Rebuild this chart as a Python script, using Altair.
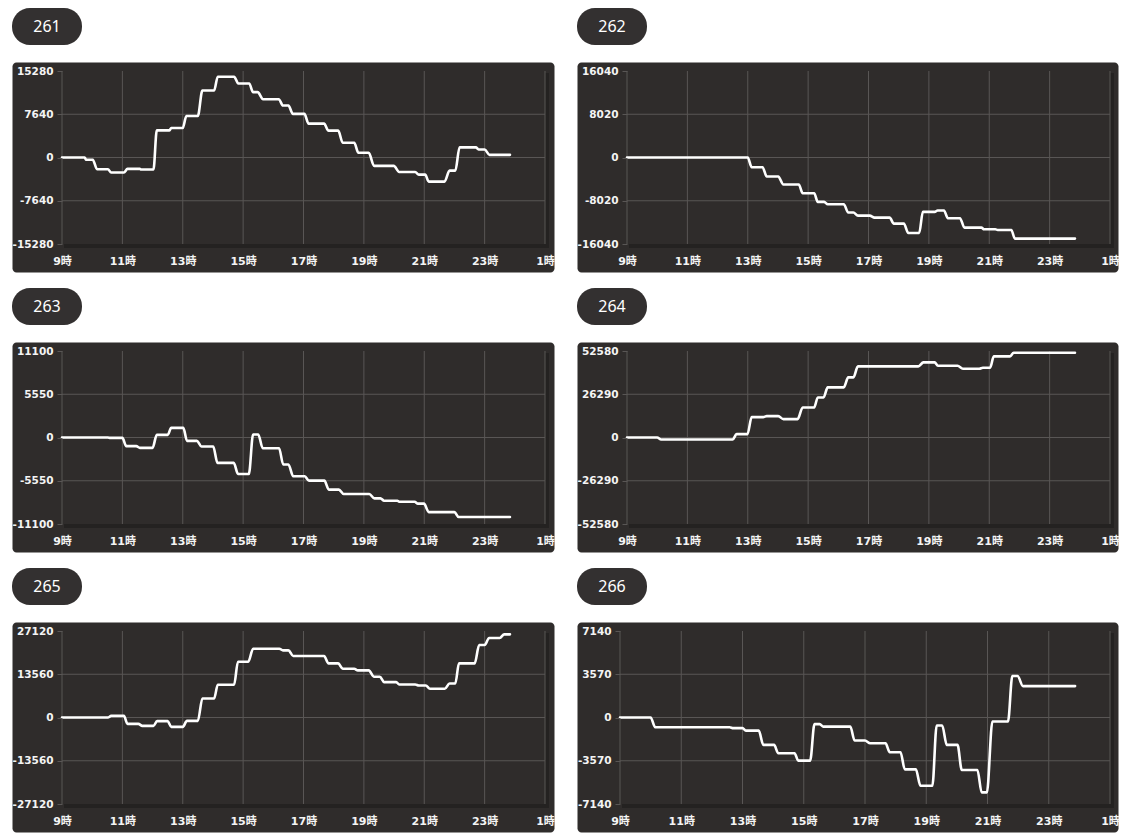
import altair as alt
import pandas as pd

NAMES = ["261", "262", "263", "264", "265", "266"]
YMAX = [15280, 16040, 11100, 52580, 27120, 7140]
XTICKS = [9, 11, 13, 15, 17, 19, 21, 23, 25]

S261 = [(9.0, 0), (9.75, 0), (9.8, -400), (10.02, -400), (10.16, -2070), (10.52, -2070),
        (10.63, -2660), (11.05, -2660), (11.17, -2010), (11.58, -2010), (11.62, -2130),
        (12.03, -2130), (12.14, 4800), (12.56, 4800), (12.62, 5210), (13.0, 5210),
        (13.12, 7340), (13.5, 7340), (13.65, 11840), (14.04, 11840), (14.16, 14270),
        (14.7, 14270), (14.84, 13080), (15.2, 13080), (15.33, 11540), (15.48, 11540),
        (15.66, 10300), (16.18, 10300), (16.32, 9180), (16.5, 9180), (16.65, 7700),
        (17.03, 7700), (17.17, 5980), (17.68, 5980), (17.83, 4740), (18.15, 4740),
        (18.3, 2600), (18.68, 2600), (18.82, 830), (19.16, 830), (19.34, -1480),
        (19.99, -1480), (20.17, -2550), (20.7, -2550), (20.82, -3020), (21.03, -3020),
        (21.15, -4260), (21.67, -4260), (21.84, -2310), (22.03, -2310), (22.17, 1780),
        (22.71, 1780), (22.8, 1420), (23.0, 1420), (23.16, 470), (23.84, 470)]

S262 = [(9.0, 0), (13.0, 0), (13.13, -1800), (13.49, -1800), (13.63, -3530), (14.01, -3530),
        (14.18, -5010), (14.69, -5010), (14.82, -6620), (15.2, -6620), (15.32, -8230),
        (15.53, -8230), (15.65, -8670), (16.18, -8670), (16.33, -10210), (16.5, -10210),
        (16.65, -10770), (17.04, -10770), (17.2, -11140), (17.7, -11140), (17.84, -12260),
        (18.17, -12260), (18.32, -13990), (18.68, -13990), (18.8, -10090), (19.19, -10090),
        (19.29, -9840), (19.5, -9840), (19.63, -11270), (20.03, -11270), (20.18, -13000),
        (20.74, -13000), (20.83, -13310), (21.2, -13310), (21.28, -13430), (21.73, -13430),
        (21.85, -15040), (23.84, -15040)]

S263 = [(9.0, 0), (10.52, 0), (10.6, -50), (11.0, -50), (11.13, -1110), (11.46, -1110),
        (11.58, -1330), (12.0, -1330), (12.14, 340), (12.5, 340), (12.62, 1240), (13.02, 1240),
        (13.14, -430), (13.47, -430), (13.62, -1160), (14.01, -1160), (14.15, -3260),
        (14.69, -3260), (14.83, -4680), (15.19, -4680), (15.33, 390), (15.5, 390),
        (15.65, -1370), (16.19, -1370), (16.33, -3470), (16.5, -3470), (16.66, -4980),
        (17.04, -4980), (17.18, -5530), (17.69, -5530), (17.84, -6690), (18.17, -6690),
        (18.33, -7250), (19.18, -7250), (19.35, -7810), (19.55, -7810), (19.67, -8110),
        (20.11, -8110), (20.17, -8240), (20.68, -8240), (20.79, -8490), (20.99, -8490),
        (21.15, -9570), (22.0, -9570), (22.14, -10210), (23.84, -10210)]

S264 = [(9.0, 0), (10.0, 0), (10.13, -1220), (12.5, -1220), (12.63, 2030), (12.99, 2030),
        (13.13, 12380), (13.51, 12380), (13.63, 13000), (14.01, 13000), (14.18, 11170),
        (14.65, 11170), (14.82, 18270), (15.2, 18270), (15.32, 24360), (15.51, 24360),
        (15.65, 30450), (16.18, 30450), (16.33, 36540), (16.5, 36540), (16.65, 43240),
        (18.65, 43240), (18.82, 45680), (19.19, 45680), (19.3, 43650), (19.95, 43650),
        (20.13, 41820), (20.67, 41820), (20.79, 42430), (21.03, 42430), (21.15, 49330),
        (21.69, 49330), (21.81, 51560), (23.84, 51560)]

S265 = [(9.0, 0), (10.52, 0), (10.63, 520), (11.05, 520), (11.17, -1990), (11.53, -1990),
        (11.66, -2620), (12.03, -2620), (12.15, -1150), (12.5, -1150), (12.62, -2930),
        (13.0, -2930), (13.14, -1050), (13.5, -1050), (13.65, 5970), (14.04, 5970),
        (14.16, 10260), (14.7, 10260), (14.83, 17480), (15.17, 17480), (15.33, 21570),
        (16.2, 21570), (16.32, 21040), (16.5, 21040), (16.66, 19260), (17.68, 19260),
        (17.83, 16960), (18.15, 16960), (18.3, 15290), (18.68, 15290), (18.8, 14760),
        (19.16, 14760), (19.34, 12770), (19.53, 12770), (19.67, 11100), (20.07, 11100),
        (20.17, 10370), (20.7, 10370), (20.82, 10050), (21.05, 10050), (21.19, 9000),
        (21.68, 9000), (21.84, 10680), (22.03, 10680), (22.15, 16960), (22.67, 16960),
        (22.82, 22720), (23.0, 22720), (23.15, 24920), (23.5, 24920), (23.65, 26070),
        (23.84, 26070)]

S266 = [(9.0, 0), (10.0, 0), (10.15, -800), (12.58, -800), (12.7, -880), (13.0, -880),
        (13.11, -1080), (13.53, -1080), (13.68, -2260), (14.03, -2260), (14.17, -2950),
        (14.7, -2950), (14.82, -3560), (15.21, -3560), (15.35, -550), (15.52, -550),
        (15.64, -750), (16.52, -750), (16.66, -1900), (17.0, -1900), (17.17, -2130),
        (17.67, -2130), (17.81, -2870), (18.16, -2870), (18.3, -4280), (18.66, -4280),
        (18.81, -5630), (19.2, -5630), (19.34, -660), (19.52, -660), (19.67, -2260),
        (20.02, -2260), (20.16, -4330), (20.67, -4330), (20.81, -6180), (20.98, -6180),
        (21.16, -330), (21.67, -330), (21.81, 3420), (21.98, 3420), (22.16, 2590),
        (23.86, 2590)]

SERIES = [S261, S262, S263, S264, S265, S266]

# styling / layout (pixels)
BOX = "#2f2c2b"
PILL = "#333030"
SHADOW = "#242221"
GRID = "#595655"
LABEL = "#f4f4f4"
FONT = "DejaVu Sans, Noto Sans CJK JP, sans-serif"
BOX_H = 210          # dark card height (the view)
PT, PB = 9, 182      # plot area top / bottom inside the card
# per panel: card width, plot left, plot right
GEOM = [
    (542, 50, 533),
    (541, 50, 533),
    (542, 50, 533),
    (541, 50, 533),
    (542, 50, 533),
    (541, 43, 533),
]


def panel(name, series, ymax, geom):
    w, r0, r1 = geom
    one = pd.DataFrame({"k": [0]})
    line_df = pd.DataFrame(series, columns=["t", "v"])
    xgrid = pd.DataFrame({"t": XTICKS})
    ygrid = pd.DataFrame({"v": [ymax / 2, 0, -ymax / 2]})
    yticks = [ymax, ymax / 2, 0, -ymax / 2, -ymax]
    xs = alt.Scale(domain=[9, 25], range=[r0, r1], nice=False, zero=False)
    ys = alt.Scale(domain=[-ymax, ymax], range=[PB, PT], nice=False, zero=False)
    xaxis = alt.Axis(
        values=XTICKS, labelExpr="(datum.value % 24) + '時'", grid=False,
        domain=False, ticks=False, tickSize=0, labelPadding=11, labelFlush=False,
        offset=-(BOX_H - PB), labelOverlap=False, labelColor=LABEL, labelFont=FONT,
        labelFontSize=11, labelFontWeight="bold", title="", zindex=1)
    yaxis = alt.Axis(
        values=yticks, labelExpr="'' + datum.value", grid=False, domain=False,
        ticks=True, tickSize=5, tickColor=GRID, labelPadding=4, offset=-r0,
        labelColor=LABEL, labelFont=FONT, labelFontSize=10.5, labelFontWeight="bold",
        labelOverlap=False, labelFlush=False, title="", zindex=1)

    pill = alt.Chart(one).mark_rect(color=PILL, cornerRadius=18).encode(
        x=alt.value(0), x2=alt.value(70), y=alt.value(-54), y2=alt.value(-17))
    pill_text = alt.Chart(one).mark_text(
        font="Noto Sans", fontSize=16, color="white", align="center", baseline="middle"
    ).encode(x=alt.value(35), y=alt.value(-35), text=alt.value(name))
    shadow = alt.Chart(one).mark_rect(color=SHADOW).encode(
        x=alt.value(r0 + 2), x2=alt.value(r1 + 4), y=alt.value(PT + 2), y2=alt.value(PB + 4))
    plot = alt.Chart(one).mark_rect(color=BOX).encode(
        x=alt.value(r0), x2=alt.value(r1), y=alt.value(PT), y2=alt.value(PB))
    vgrid = alt.Chart(xgrid).mark_rule(color=GRID, strokeWidth=1).encode(
        x=alt.X("t:Q", scale=xs, axis=xaxis), y=alt.value(PT), y2=alt.value(PB))
    hgrid = alt.Chart(ygrid).mark_rule(color=GRID, strokeWidth=1).encode(
        y=alt.Y("v:Q", scale=ys, axis=yaxis), x=alt.value(r0), x2=alt.value(r1))
    line = alt.Chart(line_df).mark_line(
        color="white", strokeWidth=2.6, interpolate="monotone",
        strokeJoin="round", strokeCap="round"
    ).encode(
        x=alt.X("t:Q", scale=xs, axis=xaxis),
        y=alt.Y("v:Q", scale=ys, axis=yaxis),
    )
    return alt.layer(pill, pill_text, shadow, plot, vgrid, hgrid, line).properties(
        width=w, height=BOX_H)


panels = [panel(n, s, m, g) for n, s, m, g in zip(NAMES, SERIES, YMAX, GEOM)]

chart = alt.concat(
    *panels, columns=2, spacing=alt.RowColnumber(row=70, column=23), bounds="flush"
).properties(
    padding={"left": 11, "top": 7, "right": 0, "bottom": 0},
    background="white",
).configure_view(stroke="transparent", fill=BOX, cornerRadius=4)

chart.save("out.html", embed_options={"renderer": "svg", "actions": False})
